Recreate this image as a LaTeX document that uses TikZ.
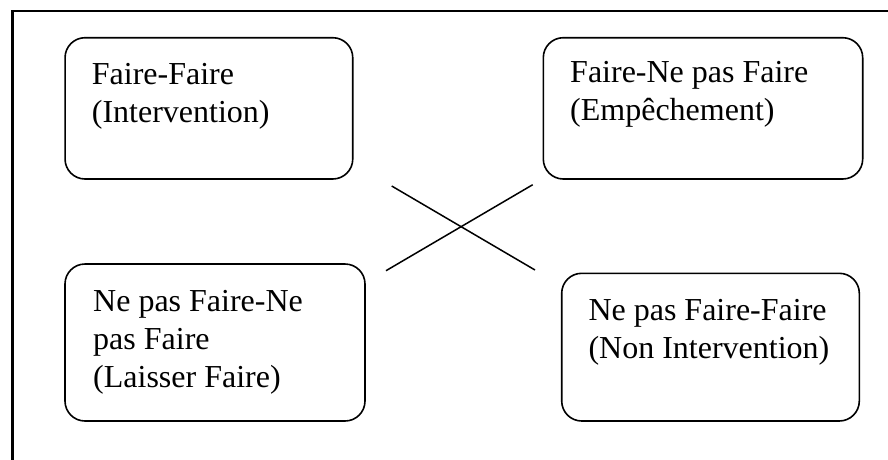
\documentclass[tikz,border=0pt]{standalone}
\usepackage{fontspec}
\setmainfont{Liberation Serif}
\begin{document}
\begin{tikzpicture}[x=1pt,y=-1pt,
  box/.style={draw, line width=1.6pt, rounded corners=20pt, inner sep=0pt},
  boxtext/.style={anchor=north west, inner sep=0pt, align=left,
    font=\fontsize{32}{38}\selectfont},
  cross/.style={line width=1.5pt}]
\useasboundingbox (0,0) rectangle (888,459);
% outer frame, running past the page on the right and bottom
\begin{scope}
  \clip (0,0) rectangle (888,459);
  \draw[line width=2.4pt] (12.3,11) rectangle (920,490);
\end{scope}

% the four boxes
\node[box, minimum width=287.7pt, minimum height=141.3pt] (ff) at (208.9,108.35) {};
\node[box, minimum width=319.4pt, minimum height=141.3pt] (fn) at (703,108.35) {};
\node[box, minimum width=300pt, minimum height=157pt] (nn) at (215,342.5) {};
\node[box, minimum width=297.6pt, minimum height=147.7pt] (nf) at (710.5,347.15) {};

% their texts
\node[boxtext] (tff) at (91.7,63) {Faire-Faire\\(Intervention)};
\node[boxtext] (tfn) at (570,61.5) {Faire-Ne pas Faire\\(Empêchement)};
\node[boxtext] (tnn) at (93,290) {Ne pas Faire-Ne\\pas Faire\\(Laisser Faire)};
\node[boxtext] (tnf) at (588.3,299) {Ne pas Faire-Faire\\(Non Intervention)};

% the cross between the boxes
\coordinate (a1) at (391.7,186);
\coordinate (a2) at (535,270);
\coordinate (b1) at (386,270.7);
\coordinate (b2) at (532.7,184.7);
\draw[cross] (a1) -- (a2);
\draw[cross] (b1) -- (b2);
\end{tikzpicture}
\end{document}
